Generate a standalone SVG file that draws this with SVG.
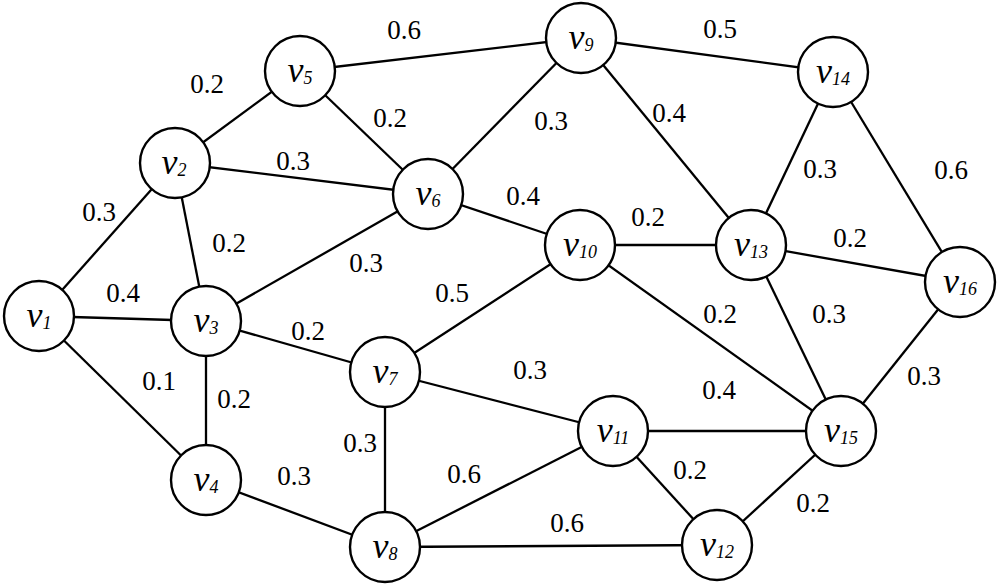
<svg xmlns="http://www.w3.org/2000/svg" width="1000" height="585" viewBox="0 0 1000 585">
<style>
.e line{stroke:#000;stroke-width:2.3}
.n circle{fill:#fff;stroke:#000;stroke-width:2.4}
.n text{font-family:"Liberation Serif","Times New Roman",serif;font-style:italic;font-size:36px;text-anchor:middle}
.n tspan{font-size:18px}
.w text{font-family:"Liberation Serif","Times New Roman",serif;font-size:27px;text-anchor:middle}
</style>
<rect width="1000" height="585" fill="#fff"/>
<g id="connectors" class="e">
<line x1="39" y1="316" x2="175" y2="163"/>
<line x1="39" y1="316" x2="206" y2="321"/>
<line x1="39" y1="316" x2="206" y2="480"/>
<line x1="175" y1="163" x2="300" y2="71"/>
<line x1="175" y1="163" x2="428" y2="194"/>
<line x1="175" y1="163" x2="206" y2="321"/>
<line x1="206" y1="321" x2="428" y2="194"/>
<line x1="206" y1="321" x2="385" y2="372"/>
<line x1="206" y1="321" x2="206" y2="480"/>
<line x1="206" y1="480" x2="385" y2="547"/>
<line x1="300" y1="71" x2="581" y2="38"/>
<line x1="300" y1="71" x2="428" y2="194"/>
<line x1="428" y1="194" x2="581" y2="38"/>
<line x1="428" y1="194" x2="580" y2="245"/>
<line x1="385" y1="372" x2="580" y2="245"/>
<line x1="385" y1="372" x2="613" y2="431"/>
<line x1="385" y1="372" x2="385" y2="547"/>
<line x1="385" y1="547" x2="613" y2="431"/>
<line x1="385" y1="547" x2="717" y2="545"/>
<line x1="581" y1="38" x2="833" y2="72"/>
<line x1="581" y1="38" x2="751" y2="245"/>
<line x1="580" y1="245" x2="751" y2="245"/>
<line x1="580" y1="245" x2="841" y2="431"/>
<line x1="613" y1="431" x2="841" y2="431"/>
<line x1="613" y1="431" x2="717" y2="545"/>
<line x1="717" y1="545" x2="841" y2="431"/>
<line x1="751" y1="245" x2="833" y2="72"/>
<line x1="751" y1="245" x2="960" y2="282"/>
<line x1="751" y1="245" x2="841" y2="431"/>
<line x1="833" y1="72" x2="960" y2="282"/>
<line x1="841" y1="431" x2="960" y2="282"/>
</g>
<g id="weights" class="w">
<text x="404" y="39">0.6</text>
<text x="207" y="93">0.2</text>
<text x="390" y="127">0.2</text>
<text x="293" y="170">0.3</text>
<text x="551" y="130">0.3</text>
<text x="669" y="122">0.4</text>
<text x="720" y="38">0.5</text>
<text x="99" y="221">0.3</text>
<text x="229" y="252">0.2</text>
<text x="366" y="272">0.3</text>
<text x="523" y="205">0.4</text>
<text x="648" y="226">0.2</text>
<text x="820" y="178">0.3</text>
<text x="951" y="179">0.6</text>
<text x="850" y="247">0.2</text>
<text x="123" y="302">0.4</text>
<text x="159" y="390">0.1</text>
<text x="234" y="408">0.2</text>
<text x="308" y="340">0.2</text>
<text x="452" y="302">0.5</text>
<text x="720" y="323">0.2</text>
<text x="829" y="323">0.3</text>
<text x="530" y="379">0.3</text>
<text x="719" y="399">0.4</text>
<text x="924" y="385">0.3</text>
<text x="360" y="452">0.3</text>
<text x="294" y="485">0.3</text>
<text x="464" y="483">0.6</text>
<text x="690" y="479">0.2</text>
<text x="567" y="532">0.6</text>
<text x="813" y="512">0.2</text>
</g>
<g id="v1" class="n"><circle cx="39" cy="316" r="35"/><text x="39" y="327">v<tspan dy="2">1</tspan></text></g>
<g id="v2" class="n"><circle cx="175" cy="163" r="35"/><text x="174" y="174">v<tspan dy="2">2</tspan></text></g>
<g id="v3" class="n"><circle cx="206" cy="321" r="35"/><text x="206" y="332">v<tspan dy="2">3</tspan></text></g>
<g id="v4" class="n"><circle cx="206" cy="480" r="35"/><text x="206" y="491">v<tspan dy="2">4</tspan></text></g>
<g id="v5" class="n"><circle cx="300" cy="71" r="35"/><text x="300" y="82">v<tspan dy="2">5</tspan></text></g>
<g id="v6" class="n"><circle cx="428" cy="194" r="35"/><text x="428" y="205">v<tspan dy="2">6</tspan></text></g>
<g id="v7" class="n"><circle cx="385" cy="372" r="35"/><text x="385" y="383">v<tspan dy="2">7</tspan></text></g>
<g id="v8" class="n"><circle cx="385" cy="547" r="35"/><text x="385" y="558">v<tspan dy="2">8</tspan></text></g>
<g id="v9" class="n"><circle cx="581" cy="38" r="35"/><text x="581" y="49">v<tspan dy="2">9</tspan></text></g>
<g id="v10" class="n"><circle cx="580" cy="245" r="35"/><text x="580" y="256">v<tspan dy="2">10</tspan></text></g>
<g id="v11" class="n"><circle cx="613" cy="431" r="35"/><text x="613" y="442">v<tspan dy="2">11</tspan></text></g>
<g id="v12" class="n"><circle cx="717" cy="545" r="35"/><text x="717" y="556">v<tspan dy="2">12</tspan></text></g>
<g id="v13" class="n"><circle cx="751" cy="245" r="35"/><text x="751" y="256">v<tspan dy="2">13</tspan></text></g>
<g id="v14" class="n"><circle cx="833" cy="72" r="35"/><text x="833" y="83">v<tspan dy="2">14</tspan></text></g>
<g id="v15" class="n"><circle cx="841" cy="431" r="35"/><text x="841" y="442">v<tspan dy="2">15</tspan></text></g>
<g id="v16" class="n"><circle cx="960" cy="282" r="35"/><text x="960" y="293">v<tspan dy="2">16</tspan></text></g>
</svg>
